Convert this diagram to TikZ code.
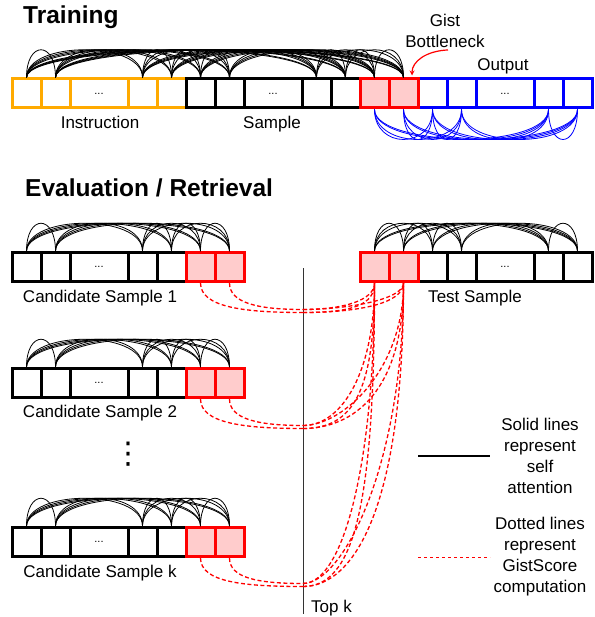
\documentclass[tikz,border=0pt]{standalone}
\usepackage{fontspec}
\setmainfont{Liberation Sans}
\newfontfamily\symfont{DejaVu Sans}
\usetikzlibrary{arrows, positioning}
\definecolor{instrorange}{HTML}{FFAA00}
\definecolor{gistpink}{HTML}{FFCCCC}
\tikzstyle{cell} = [rectangle, draw, line width=3pt, minimum width=29pt, minimum height=29pt, inner sep=0pt]
\tikzstyle{dotcell} = [cell, minimum width=58pt, font=\fontsize{11}{13}\selectfont]
\tikzstyle{gist} = [cell, draw=red, fill=gistpink]
\tikzstyle{attn} = [line width=0.8pt]
\tikzstyle{score} = [red, line width=1.3pt, dash pattern=on 4pt off 2.5pt]
\tikzstyle{label} = [inner sep=0pt, font=\fontsize{17}{21}\selectfont]
\tikzstyle{title} = [inner sep=0pt, anchor=base west, font=\fontsize{24.5}{28}\selectfont\bfseries]

% a row of five tokens: name prefix, left x, centre y, colour
\newcommand{\tokrow}[4]{%
  \node[cell, draw=#4]    (#1a) at (#2+14.5,#3) {};
  \node[cell, draw=#4]    (#1b) at (#2+43.5,#3) {};
  \node[dotcell, draw=#4] (#1c) at (#2+87,#3)   {...};
  \node[cell, draw=#4]    (#1d) at (#2+130.5,#3) {};
  \node[cell, draw=#4]    (#1e) at (#2+159.5,#3) {};
}
% two gist tokens: name prefix, left x, centre y
\newcommand{\gistpair}[3]{%
  \node[gist] (#1g1) at (#2+14.5,#3) {};
  \node[gist] (#1g2) at (#2+43.5,#3) {};
}
% self attention arcs between every pair of tokens
\newcommand{\arcsabove}[1]{%
  \foreach \p [count=\i] in {#1} {
    \foreach \q [count=\j] in {#1} {
      \ifnum\j>\i \draw[attn] (\p.north) .. controls +(0,-37) and +(0,-37) .. (\q.north); \fi
    }
  }
}
\newcommand{\arcsbelow}[1]{%
  \foreach \p [count=\i] in {#1} {
    \foreach \q [count=\j] in {#1} {
      \ifnum\j>\i \ifnum\j>2 \draw[attn, blue] (\p.south) .. controls +(0,40) and +(0,40) .. (\q.south); \fi\fi
    }
  }
}

\begin{document}
\begin{tikzpicture}[x=1pt, y=-1pt]
  \useasboundingbox (0,0) rectangle (594,617);

  % training
  \node[title] (trainttl) at (23,24) {Training};
  \tokrow{ins}{12}{93.5}{instrorange}
  \tokrow{smp}{186}{93.5}{black}
  \tokrow{out}{418}{93.5}{blue}
  \gistpair{trn}{360}{93.5}
  \arcsabove{insa,insb,insd,inse,smpa,smpb,smpd,smpe,trng1,trng2}
  \arcsbelow{trng1,trng2,outa,outb,outd,oute}

  \node[label, anchor=base] (instlbl) at (100,129) {Instruction};
  \node[label, anchor=base] (smplbl)  at (272,129) {Sample};
  \node[label, anchor=base] (outlbl)  at (503,71)  {Output};
  \node[label, align=center] (gistlbl) at (445,31) {Gist\\Bottleneck};
  \draw[->, >=stealth, red, line width=1.2pt] ([xshift=3pt,yshift=-2pt]gistlbl.south)
    .. controls +(-22,1) and +(0,-14) .. ([xshift=8.5pt,yshift=2pt]trng2.north);

  % evaluation / retrieval
  \node[title] (evalttl) at (25,197) {Evaluation / Retrieval};

  \tokrow{cnda}{12}{267}{black}
  \gistpair{cnda}{186}{267}
  \tokrow{cndb}{12}{383}{black}
  \gistpair{cndb}{186}{383}
  \tokrow{cndk}{12}{542}{black}
  \gistpair{cndk}{186}{542}
  \tokrow{tst}{418}{267}{black}
  \gistpair{tst}{360}{267}

  \arcsabove{cndaa,cndab,cndad,cndae,cndag1,cndag2}
  \arcsabove{cndba,cndbb,cndbd,cndbe,cndbg1,cndbg2}
  \arcsabove{cndka,cndkb,cndkd,cndke,cndkg1,cndkg2}
  \arcsabove{tstg1,tstg2,tsta,tstb,tstd,tste}

  \node[label, anchor=base] (cndalbl) at (100,302) {Candidate Sample 1};
  \node[label, anchor=base] (cndblbl) at (100,417) {Candidate Sample 2};
  \node[label, anchor=base] (cndklbl) at (100,577) {Candidate Sample k};
  \node[label, anchor=base] (tstlbl)  at (475,302) {Test Sample};
  \node (more) at (128,454) {\symfont\fontsize{30}{30}\selectfont ⋮};

  % top k line
  \coordinate (ktop) at (303,268);
  \coordinate (kbot) at (303,614);
  \draw[line width=1pt, black!80] (ktop) -- (kbot);
  \node[label, anchor=base west] (topk) at (311,612) {Top k};

  % gistscore between candidate and test gist tokens
  \foreach \cnd/\y in {cnda/311, cndb/427, cndk/585} {
    \coordinate (\cnd m1) at (303,\y+1.5);
    \coordinate (\cnd m2) at (303,\y-1.5);
    \draw[score] (\cnd g1.south) .. controls +(0,24) and +(-60,0) .. (\cnd m1);
    \draw[score] (\cnd g2.south) .. controls +(0,20) and +(-45,0) .. (\cnd m2);
    \foreach \t in {1,2} {
      \draw[score] (\cnd m1) .. controls +(50,0) and +(0,{0.75*(\y-282)}) .. (tstg\t.south);
      \draw[score] (\cnd m2) .. controls +(40,0) and +(0,{0.6*(\y-282)}) .. (tstg\t.south);
    }
  }

  % legend
  \coordinate (solida) at (418,456);
  \coordinate (solidb) at (490,456);
  \draw[line width=1.2pt] (solida) -- (solidb);
  \node[label, align=center] (solidtxt) at (540,456) {Solid lines\\represent\\self\\attention};
  \coordinate (dasha) at (418,557);
  \coordinate (dashb) at (490,557);
  \draw[red, line width=1pt, dash pattern=on 3pt off 3pt] (dasha) -- (dashb);
  \node[label, align=center] (dashtxt) at (540,557) {Dotted lines\\represent\\GistScore\\computation};
\end{tikzpicture}
\end{document}
